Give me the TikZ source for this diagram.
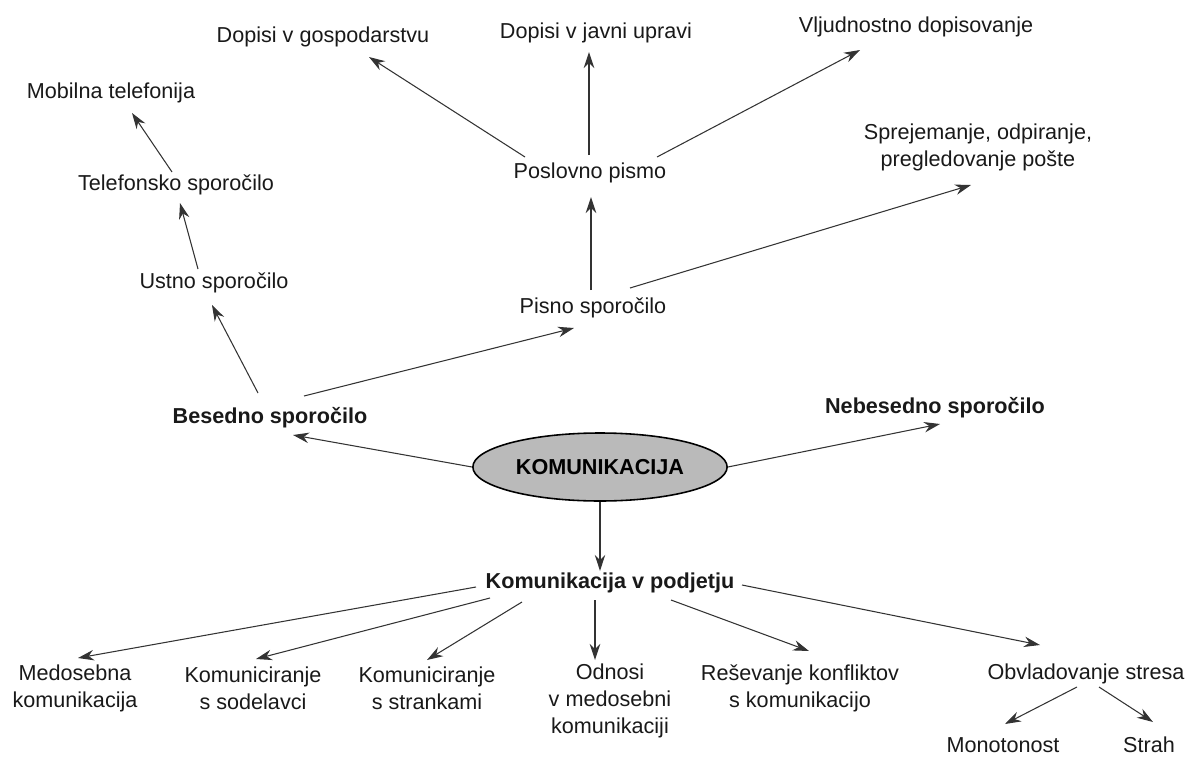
\documentclass[tikz,border=0pt]{standalone}
\usepackage{fontspec}
\setmainfont{Liberation Sans}
\usepackage{tikz}
\usetikzlibrary{shapes.geometric,arrows.meta}

\begin{document}
\begin{tikzpicture}[x=0.02cm, y=-0.02cm,
  font=\fontsize{12.3}{15.4}\selectfont,
  txt/.style={align=center, inner sep=1pt, text=black!90},
  head/.style={txt, font=\fontsize{12.3}{15.4}\selectfont\bfseries},
  link/.style={draw=black!80, line width=0.6pt, -{Stealth[length=3.2mm, width=2.1mm]}}]
  \useasboundingbox (0,0) rectangle (1188,758);

  % Nodes
  \node (kom) [draw, ellipse, line width=0.9pt, fill=black!27, minimum width=4.6cm, minimum height=1.36cm, font=\fontsize{12.3}{15.4}\selectfont\bfseries] at (600,467) {KOMUNIKACIJA};
  \node (besedno) [head] at (270,418) {Besedno sporočilo};
  \node (nebesedno) [head] at (935,408) {Nebesedno sporočilo};
  \node (podjetje) [head] at (610,583) {Komunikacija v podjetju};

  \node (ustno) [txt] at (214,283) {Ustno sporočilo};
  \node (telefon) [txt] at (176,185) {Telefonsko sporočilo};
  \node (mobilna) [txt] at (111,93) {Mobilna telefonija};
  \node (pisno) [txt] at (593,308) {Pisno sporočilo};
  \node (poslovno) [txt] at (590,173) {Poslovno pismo};
  \node (gosp) [txt] at (323,37) {Dopisi v gospodarstvu};
  \node (javni) [txt] at (596,33) {Dopisi v javni upravi};
  \node (vljud) [txt] at (916,27) {Vljudnostno dopisovanje};
  \node (posta) [txt] at (978,147) {Sprejemanje, odpiranje,\\pregledovanje pošte};

  \node (medosebna) [txt] at (75,688) {Medosebna\\komunikacija};
  \node (sodelavci) [txt] at (253,688) {Komuniciranje\\s sodelavci};
  \node (stranke) [txt] at (427,688) {Komuniciranje\\s strankami};
  \node (odnosi) [txt] at (610,701) {Odnosi\\v medosebni\\komunikaciji};
  \node (konflikt) [txt] at (800,688) {Reševanje konfliktov\\s komunikacijo};
  \node (stres) [txt] at (1086,674) {Obvladovanje stresa};
  \node (monoton) [txt] at (1003,745) {Monotonost};
  \node (strah) [txt] at (1149,745) {Strah};

  % Edges
  \draw[link] (kom.west) -- ([shift={(23,17)}]besedno.center);
  \draw[link] (kom.east) -- ([shift={(5,16)}]nebesedno.center);
  \draw[link] (kom.south) -- (kom.south |- podjetje.north);

  \draw[link] ([shift={(-12,-25)}]besedno.center) -- ([shift={(-2,22)}]ustno.center);
  \draw[link] ([shift={(34,-22)}]besedno.center) -- ([shift={(-19,20)}]pisno.center);
  \draw[link] ([shift={(-16,-14)}]ustno.center) -- ([shift={(4,18)}]telefon.center);
  \draw[link] ([shift={(-4,-13)}]telefon.center) -- ([shift={(21,20)}]mobilna.center);
  \draw[link] ([shift={(-2,-18)}]pisno.center) -- ([shift={(1,24)}]poslovno.center);
  \draw[link] ([shift={(37,-20)}]pisno.center) -- ([shift={(-7,38)}]posta.center);
  \draw[link] ([shift={(-65,-16)}]poslovno.center) -- ([shift={(46,20)}]gosp.center);
  \draw[link] ([shift={(-1,-18)}]poslovno.center) -- ([shift={(-7,19)}]javni.center);
  \draw[link] ([shift={(67,-16)}]poslovno.center) -- ([shift={(-56,23)}]vljud.center);

  \draw[link] ([shift={(-134,4)}]podjetje.center) -- ([shift={(3,-30)}]medosebna.center);
  \draw[link] ([shift={(-120,15)}]podjetje.center) -- ([shift={(3,-29)}]sodelavci.center);
  \draw[link] ([shift={(-88,19)}]podjetje.center) -- ([shift={(0,-28)}]stranke.center);
  \draw[link] ([shift={(-15,17)}]podjetje.center) -- ([shift={(-15,-41)}]odnosi.center);
  \draw[link] ([shift={(61,17)}]podjetje.center) -- ([shift={(9,-37)}]konflikt.center);
  \draw[link] ([shift={(132,2)}]podjetje.center) -- ([shift={(-46,-29)}]stres.center);
  \draw[link] ([shift={(-9,13)}]stres.center) -- ([shift={(2,-21)}]monoton.center);
  \draw[link] ([shift={(13,13)}]stres.center) -- ([shift={(4,-23)}]strah.center);
\end{tikzpicture}
\end{document}
